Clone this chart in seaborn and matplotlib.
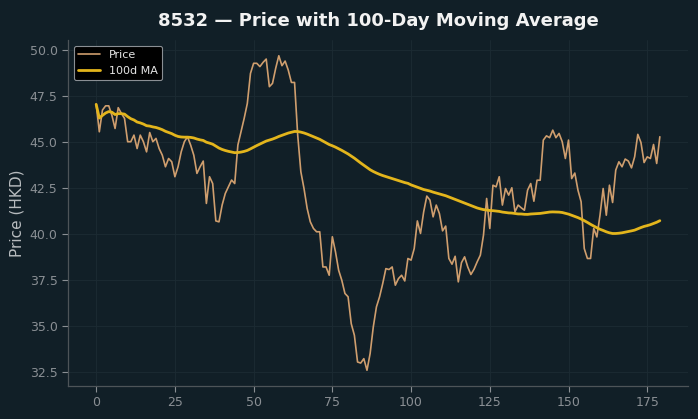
import numpy as np
import pandas as pd
import matplotlib
matplotlib.use("Agg")
import matplotlib.pyplot as plt
import seaborn as sns

title = "8532 — Price with 100-Day Moving Average"
ylabel = "Price (HKD)"
ma_window = 100

price = [
    47.05, 45.56, 46.74, 46.97, 46.97, 46.45, 45.74, 46.87, 46.56, 46.29,
    45.02, 45.02, 45.38, 44.65, 45.38, 45.02, 44.47, 45.52, 45.02, 45.20,
    44.65, 44.29, 43.66, 44.11, 43.93, 43.12, 43.66, 44.47, 45.02, 45.29,
    44.84, 44.29, 43.30, 43.66, 43.97, 41.67, 43.12, 42.75, 40.72, 40.67,
    41.58, 42.21, 42.57, 42.94, 42.75, 44.84, 45.56, 46.29, 47.10, 48.73,
    49.28, 49.28, 49.10, 49.33, 49.51, 48.01, 48.19, 49.00, 49.69, 49.15,
    49.40, 48.91, 48.24, 48.24, 45.38, 43.39, 42.48, 41.40, 40.67, 40.31,
    40.13, 40.13, 38.22, 38.22, 37.77, 39.86, 39.04, 38.04, 37.50, 36.78,
    36.60, 35.14, 34.51, 33.06, 33.00, 33.24, 32.61, 33.52, 34.96, 36.05,
    36.60, 37.32, 38.13, 38.08, 38.22, 37.23, 37.59, 37.77, 37.46, 38.68,
    38.59, 39.22, 40.72, 40.04, 41.21, 42.07, 41.85, 40.94, 41.58, 41.12,
    40.18, 40.44, 38.68, 38.37, 38.80, 37.41, 38.45, 38.77, 38.22, 37.81,
    38.10, 38.50, 38.86, 39.95, 41.94, 40.31, 42.66, 42.57, 43.12, 41.58,
    42.48, 42.12, 42.52, 41.21, 41.58, 41.43, 41.30, 42.39, 42.75, 41.79,
    42.93, 42.93, 45.11, 45.34, 45.24, 45.65, 45.24, 45.47, 45.02, 44.11,
    45.11, 43.02, 43.32, 42.39, 41.76, 39.22, 38.68, 38.68, 40.31, 39.85,
    41.03, 42.48, 41.03, 42.66, 41.72, 43.48, 43.93, 43.66, 44.08, 43.97,
    43.60, 44.20, 45.42, 44.98, 43.89, 44.20, 44.11, 44.87, 43.84, 45.29,
]

bg = "#111f27"
sns.set_theme(style="dark")
plt.rcParams["font.family"] = ["DejaVu Sans"]

df = pd.DataFrame({"day": np.arange(len(price)), "Price": price})
df["ma"] = df["Price"].rolling(ma_window, min_periods=1).mean()

fig = plt.figure(figsize=(6.98, 4.19), dpi=100, facecolor=bg)
ax = fig.add_axes([0.0974, 0.0788, 0.8883, 0.8257])
ax.set_facecolor(bg)

sns.lineplot(data=df, x="day", y="Price", ax=ax, color="#cf9e6e", linewidth=1.2, label="Price")
sns.lineplot(data=df, x="day", y="ma", ax=ax, color="#e3b51c", linewidth=2.0, label="100d MA")

ax.set_xticks([0, 25, 50, 75, 100, 125, 150, 175])
ax.set_yticks([32.5, 35.0, 37.5, 40.0, 42.5, 45.0, 47.5, 50.0])
ax.set_yticklabels([f"{v:.1f}" for v in [32.5, 35.0, 37.5, 40.0, 42.5, 45.0, 47.5, 50.0]])
ax.tick_params(axis="both", colors="#8a8f94", labelsize=9, length=4, width=0.8,
               bottom=True, left=True, direction="out")
ax.grid(True, color="#1c2b33", linewidth=0.6)
for s in ["top", "right"]:
    ax.spines[s].set_visible(False)
for s in ["left", "bottom"]:
    ax.spines[s].set_color("#4d5458")
    ax.spines[s].set_linewidth(0.9)

ax.set_xlabel("")
ax.set_ylabel(ylabel, color="#b8bcbf", fontsize=11)
ax.set_title(title, color="#f2f2f2", fontsize=13, fontweight="bold", pad=10)

leg = ax.legend(loc="upper left", fontsize=8, facecolor="#000000", edgecolor="#8a8f94",
                framealpha=1.0, labelcolor="#e6e6e6")
leg.get_frame().set_linewidth(0.8)

fig.savefig("out.png", dpi=100, facecolor=bg)
